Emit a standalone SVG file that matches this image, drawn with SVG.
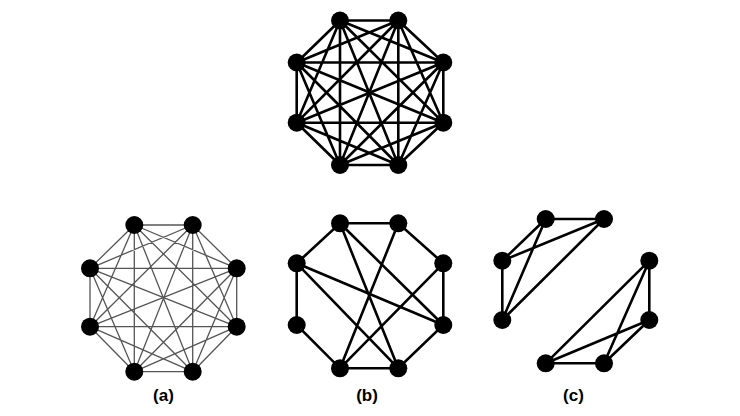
<svg xmlns="http://www.w3.org/2000/svg" width="740" height="416" viewBox="0 0 740 416">
<style>
.thick{stroke:#000;stroke-width:2.6;fill:none}
.thin{stroke:#555;stroke-width:1.3;fill:none}
.n{fill:#000}
.lbl{font-family:"Liberation Sans",Arial,sans-serif;font-weight:bold;font-size:17px;fill:#000;text-anchor:middle}
</style>
<rect width="740" height="416" fill="#fff"/>
<g id="connectors">
<g id="edges-top" class="thick">
<path d="M340 20.5L398.3 20.5M340 20.5L296.7 62.5M340 20.5L443.3 62.5M340 20.5L296.7 122.7M340 20.5L443.3 122.7M340 20.5L340 165M340 20.5L398.3 165
M398.3 20.5L296.7 62.5M398.3 20.5L443.3 62.5M398.3 20.5L296.7 122.7M398.3 20.5L443.3 122.7M398.3 20.5L340 165M398.3 20.5L398.3 165
M296.7 62.5L443.3 62.5M296.7 62.5L296.7 122.7M296.7 62.5L443.3 122.7M296.7 62.5L340 165M296.7 62.5L398.3 165
M443.3 62.5L296.7 122.7M443.3 62.5L443.3 122.7M443.3 62.5L340 165M443.3 62.5L398.3 165
M296.7 122.7L443.3 122.7M296.7 122.7L340 165M296.7 122.7L398.3 165
M443.3 122.7L340 165M443.3 122.7L398.3 165
M340 165L398.3 165"/>
</g>
<g id="edges-a" class="thin">
<path d="M134.3 225L192.7 225M134.3 225L90 268.3M134.3 225L236.7 268.3M134.3 225L90 326.7M134.3 225L236.7 326.7M134.3 225L134.3 371.7M134.3 225L192.7 371.7
M192.7 225L90 268.3M192.7 225L236.7 268.3M192.7 225L90 326.7M192.7 225L236.7 326.7M192.7 225L134.3 371.7M192.7 225L192.7 371.7
M90 268.3L236.7 268.3M90 268.3L90 326.7M90 268.3L236.7 326.7M90 268.3L134.3 371.7M90 268.3L192.7 371.7
M236.7 268.3L90 326.7M236.7 268.3L236.7 326.7M236.7 268.3L134.3 371.7M236.7 268.3L192.7 371.7
M90 326.7L236.7 326.7M90 326.7L134.3 371.7M90 326.7L192.7 371.7
M236.7 326.7L134.3 371.7M236.7 326.7L192.7 371.7
M134.3 371.7L192.7 371.7"/>
</g>
<g id="edges-b" class="thick">
<path d="M340 223.3L398.3 223.3L443.3 263.3L443.3 325L398.3 368.3L340 368.3L296.7 325L296.7 263.3Z
M340 223.3L398.3 368.3M340 223.3L443.3 325M398.3 223.3L340 368.3M296.7 263.3L443.3 325M296.7 263.3L398.3 368.3M443.3 263.3L340 368.3"/>
</g>
<g id="edges-c" class="thick">
<path d="M545.7 219L604 219M545.7 219L502.3 260.7M545.7 219L502.3 320M604 219L502.3 260.7M604 219L502.3 320M502.3 260.7L502.3 320
M649.3 260.7L649.3 320M649.3 260.7L545.7 363.3M649.3 260.7L604 363.3M649.3 320L545.7 363.3M649.3 320L604 363.3M545.7 363.3L604 363.3"/>
</g>
</g>
<g id="graph-top">
<circle class="n" cx="340" cy="20.5" r="9"/><circle class="n" cx="398.3" cy="20.5" r="9"/>
<circle class="n" cx="296.7" cy="62.5" r="9"/><circle class="n" cx="443.3" cy="62.5" r="9"/>
<circle class="n" cx="296.7" cy="122.7" r="9"/><circle class="n" cx="443.3" cy="122.7" r="9"/>
<circle class="n" cx="340" cy="165" r="9"/><circle class="n" cx="398.3" cy="165" r="9"/>
</g>
<g id="graph-a">
<circle class="n" cx="134.3" cy="225" r="9"/><circle class="n" cx="192.7" cy="225" r="9"/>
<circle class="n" cx="90" cy="268.3" r="9"/><circle class="n" cx="236.7" cy="268.3" r="9"/>
<circle class="n" cx="90" cy="326.7" r="9"/><circle class="n" cx="236.7" cy="326.7" r="9"/>
<circle class="n" cx="134.3" cy="371.7" r="9"/><circle class="n" cx="192.7" cy="371.7" r="9"/>
<text class="lbl" x="163.5" y="401">(a)</text>
</g>
<g id="graph-b">
<circle class="n" cx="340" cy="223.3" r="9"/><circle class="n" cx="398.3" cy="223.3" r="9"/>
<circle class="n" cx="296.7" cy="263.3" r="9"/><circle class="n" cx="443.3" cy="263.3" r="9"/>
<circle class="n" cx="296.7" cy="325" r="9"/><circle class="n" cx="443.3" cy="325" r="9"/>
<circle class="n" cx="340" cy="368.3" r="9"/><circle class="n" cx="398.3" cy="368.3" r="9"/>
<text class="lbl" x="367" y="401">(b)</text>
</g>
<g id="graph-c">
<circle class="n" cx="545.7" cy="219" r="9"/><circle class="n" cx="604" cy="219" r="9"/>
<circle class="n" cx="502.3" cy="260.7" r="9"/><circle class="n" cx="502.3" cy="320" r="9"/>
<circle class="n" cx="649.3" cy="260.7" r="9"/><circle class="n" cx="649.3" cy="320" r="9"/>
<circle class="n" cx="545.7" cy="363.3" r="9"/><circle class="n" cx="604" cy="363.3" r="9"/>
<text class="lbl" x="573.5" y="401">(c)</text>
</g>
</svg>
